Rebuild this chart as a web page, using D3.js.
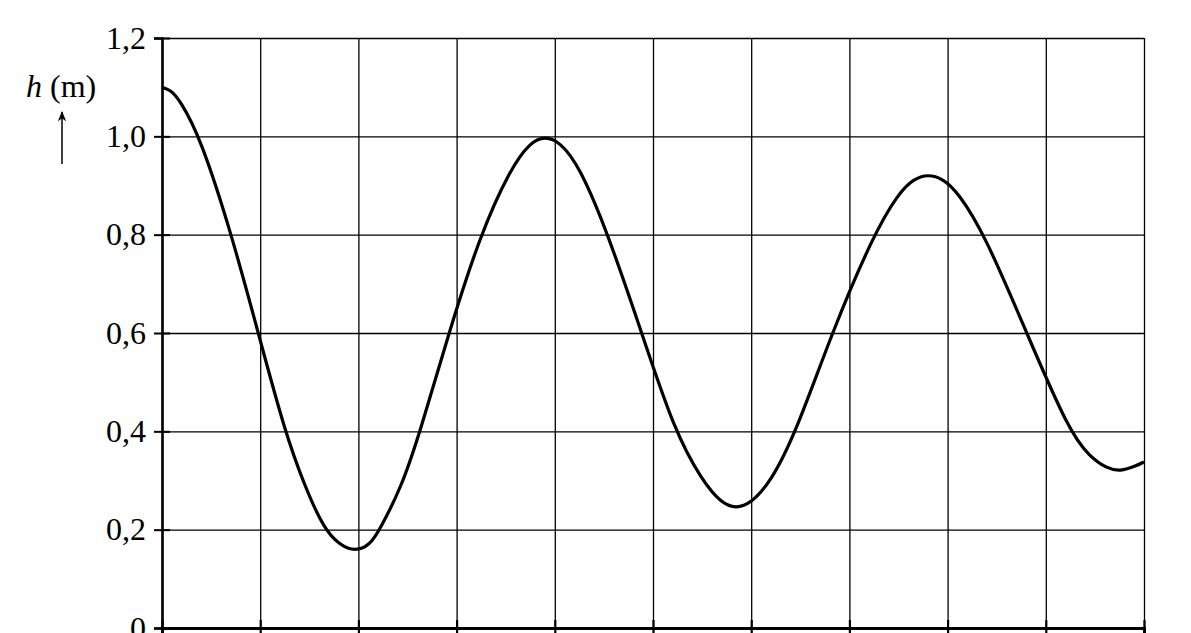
<!DOCTYPE html>
<html>
<head>
<meta charset="utf-8">
<script src="https://cdn.jsdelivr.net/npm/d3@7"></script>
<style>
  body { margin: 0; background: #fff; }
  svg { display: block; font-family: "Liberation Serif", "DejaVu Serif", serif; }
</style>
</head>
<body>
<div id="chart"></div>
<script>
// h (m) against time (x in grid units 0..10)
const tValues = [0, 0.09, 0.18, 0.387, 0.71, 0.98, 1.25, 1.456, 1.653, 1.815, 1.965, 2.115, 2.217, 2.44,
  2.63, 2.92, 3.24, 3.55, 3.75, 3.90, 4.05, 4.25, 4.545, 4.885, 5.22, 5.50, 5.695, 5.845, 5.995,
  6.20, 6.46, 6.82, 7.245, 7.50, 7.65, 7.80, 7.95, 8.10, 8.38, 8.805, 9.237, 9.45, 9.62, 9.755,
  9.925, 10];
const hValues = [1.10, 1.094, 1.074, 1.0, 0.8, 0.6, 0.4, 0.287, 0.2, 0.168, 0.156, 0.168, 0.2, 0.287,
  0.4, 0.6, 0.8, 0.935, 0.988, 1.0, 0.989, 0.94, 0.8, 0.6, 0.4, 0.30, 0.254, 0.243, 0.253,
  0.297, 0.4, 0.6, 0.8, 0.884, 0.913, 0.923, 0.914, 0.888, 0.8, 0.6, 0.4, 0.348, 0.325, 0.318,
  0.330, 0.338];
const xTicks = d3.range(0, 11);
const yTicks = [0, 0.2, 0.4, 0.6, 0.8, 1.0, 1.2];

const W = 1191, H = 633;
const margin = {top: 38, right: 47, bottom: 5, left: 162};

const svg = d3.select("#chart").append("svg").attr("width", W).attr("height", H);

const x = d3.scaleLinear().domain([0, 10]).range([margin.left, W - margin.right]);
const y = d3.scaleLinear().domain([0, 1.2]).range([H - margin.bottom, margin.top]);
const fmt = d => d === 0 ? "0" : d.toFixed(1).replace(".", ",");

// grid
svg.append("g").attr("transform", `translate(0,${y(0)})`)
  .call(d3.axisBottom(x).tickValues(xTicks).tickFormat("").tickSize(-(y(0) - y(1.2))))
  .call(g => g.select(".domain").remove())
  .call(g => g.selectAll(".tick line").attr("stroke", "#000").attr("stroke-width", 1.3));
svg.append("g").attr("transform", `translate(${x(0)},0)`)
  .call(d3.axisLeft(y).tickValues(yTicks).tickFormat("").tickSize(-(x(10) - x(0))))
  .call(g => g.select(".domain").remove())
  .call(g => g.selectAll(".tick line").attr("stroke", "#000").attr("stroke-width", 1.3));

// y axis
svg.append("g").attr("transform", `translate(${x(0)},0)`)
  .call(d3.axisLeft(y).tickValues(yTicks).tickFormat(fmt).tickSizeOuter(0).tickSize(8).tickPadding(8))
  .call(g => g.select(".domain").attr("stroke-width", 2.6))
  .call(g => g.selectAll(".tick line").attr("x1", 8).attr("x2", -8).attr("stroke-width", 2))
  .call(g => g.selectAll(".tick text").attr("font-size", 32).attr("fill", "#000")
    .attr("font-family", "Liberation Serif"));

// x axis
svg.append("g").attr("transform", `translate(0,${y(0)})`)
  .call(d3.axisBottom(x).tickValues(xTicks).tickFormat("").tickSizeOuter(0).tickSize(8))
  .call(g => g.select(".domain").attr("stroke-width", 3))
  .call(g => g.selectAll(".tick line").attr("y1", -8).attr("y2", 8).attr("stroke-width", 2.2));

// curve
const pts = tValues.map((t, i) => [t, hValues[i]]);
const line = d3.line().x(d => x(d[0])).y(d => y(d[1])).curve(d3.curveBasis);
svg.append("path").datum(pts)
  .attr("fill", "none").attr("stroke", "#000").attr("stroke-width", 3.2)
  .attr("d", line);

// axis label with arrow
const lab = svg.append("text").attr("x", 26).attr("y", 97).attr("font-size", 32)
  .attr("font-family", "Liberation Serif");
lab.append("tspan").attr("font-style", "italic").text("h");
lab.append("tspan").text(" (m)");

svg.append("defs").append("marker").attr("id", "arr")
  .attr("viewBox", "0 0 10 10").attr("refX", 9).attr("refY", 5)
  .attr("markerWidth", 7).attr("markerHeight", 7).attr("orient", "auto")
  .append("path").attr("d", "M0,1 L10,5 L0,9 L3,5 Z").attr("fill", "#000");
svg.append("line").attr("x1", 62).attr("x2", 62).attr("y1", 164).attr("y2", 112)
  .attr("stroke", "#000").attr("stroke-width", 1.5).attr("marker-end", "url(#arr)");
</script>
</body>
</html>
